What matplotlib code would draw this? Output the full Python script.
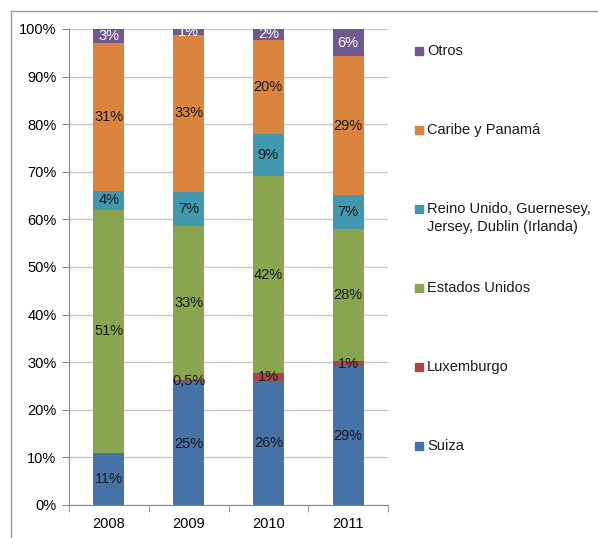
import numpy as np
import matplotlib.pyplot as plt
from matplotlib.lines import Line2D

plt.rcParams['font.family'] = ['Liberation Sans', 'DejaVu Sans']

years = ['2008', '2009', '2010', '2011']
series = ['Suiza', 'Luxemburgo', 'Estados Unidos',
          'Reino Unido, Guernesey,\nJersey, Dublin (Irlanda)',
          'Caribe y Panamá', 'Otros']
colors = ['#4572A7', '#AA4643', '#89A54E', '#4198AF', '#DB843D', '#71588F']

suiza = [11.0, 25.8, 26.1, 29.1]
luxemburgo = [0.0, 0.5, 1.6, 1.2]
estados_unidos = [51.0, 32.4, 41.4, 27.7]
reino_unido = [4.0, 7.0, 8.9, 7.1]
caribe = [31.0, 33.1, 19.7, 29.2]
otros = [3.0, 1.2, 2.3, 5.7]

lbl_suiza = ['11%', '25%', '26%', '29%']
lbl_lux = ['', '0,5%', '1%', '1%']
lbl_eeuu = ['51%', '33%', '42%', '28%']
lbl_reino = ['4%', '7%', '9%', '7%']
lbl_caribe = ['31%', '33%', '20%', '29%']
lbl_otros = ['3%', '1%', '2%', '6%']

values = [suiza, luxemburgo, estados_unidos, reino_unido, caribe, otros]
labels = [lbl_suiza, lbl_lux, lbl_eeuu, lbl_reino, lbl_caribe, lbl_otros]

fig = plt.figure(figsize=(5.98, 5.38), dpi=100)
W, H = 598, 538
ax = fig.add_axes([69 / W, 1 - 505 / H, (388 - 69) / W, (505 - 29) / H])

x = np.arange(len(years))
bottom = np.zeros(len(years))
for vals, lbls, c in zip(values, labels, colors):
    vals = np.array(vals)
    ax.bar(x, vals, 0.39, bottom=bottom, color=c, zorder=3)
    txtcol = 'white' if c == '#71588F' else '#1a1a1a'
    for xi, v, b, t in zip(x, vals, bottom, lbls):
        if t:
            ax.text(xi, b + v / 2, t, ha='center', va='center',
                    fontsize=10.5, color=txtcol, zorder=4)
    bottom += vals

ax.set_xlim(-0.5, 3.5)
ax.set_ylim(0, 100)
ax.set_yticks(np.arange(0, 101, 10))
ax.set_yticklabels([f'{v}%' for v in range(0, 101, 10)], fontsize=10.5)
ax.set_xticks(x)
ax.set_xticklabels(years, fontsize=10.5)
ax.set_xticks(np.arange(-0.5, 4, 1), minor=True)
ax.tick_params(axis='x', which='major', length=0, pad=9)
ax.tick_params(axis='x', which='minor', length=5, color='#888888')
ax.tick_params(axis='y', length=5, color='#888888', pad=4)
ax.yaxis.grid(True, color='#c8c8c8', linewidth=1, zorder=0)
for s in ['top', 'right']:
    ax.spines[s].set_visible(False)
for s in ['left', 'bottom']:
    ax.spines[s].set_color('#888888')

# legend, drawn by hand to match the spacing of the original
for i, (name, c) in enumerate(zip(series[::-1], colors[::-1])):
    yp = 1 - (50.7 + 79 * i) / H
    fig.add_artist(Line2D([419 / W], [yp], marker='s', markersize=5.5,
                          color=c, linestyle='none'))
    fig.text(427 / W, yp, name.split('\n')[0], fontsize=10.5, va='center',
             color='#1a1a1a')
    if '\n' in name:
        fig.text(427 / W, yp - 18 / H, name.split('\n')[1], fontsize=10.5,
                 va='center', color='#1a1a1a')

# outer frame (only left and top edges are visible)
fig.add_artist(Line2D([11 / W, 1], [1 - 11 / H, 1 - 11 / H], color='#999999', lw=1))
fig.add_artist(Line2D([11 / W, 11 / W], [0, 1 - 11 / H], color='#999999', lw=1))

fig.savefig('out.png', dpi=100)
